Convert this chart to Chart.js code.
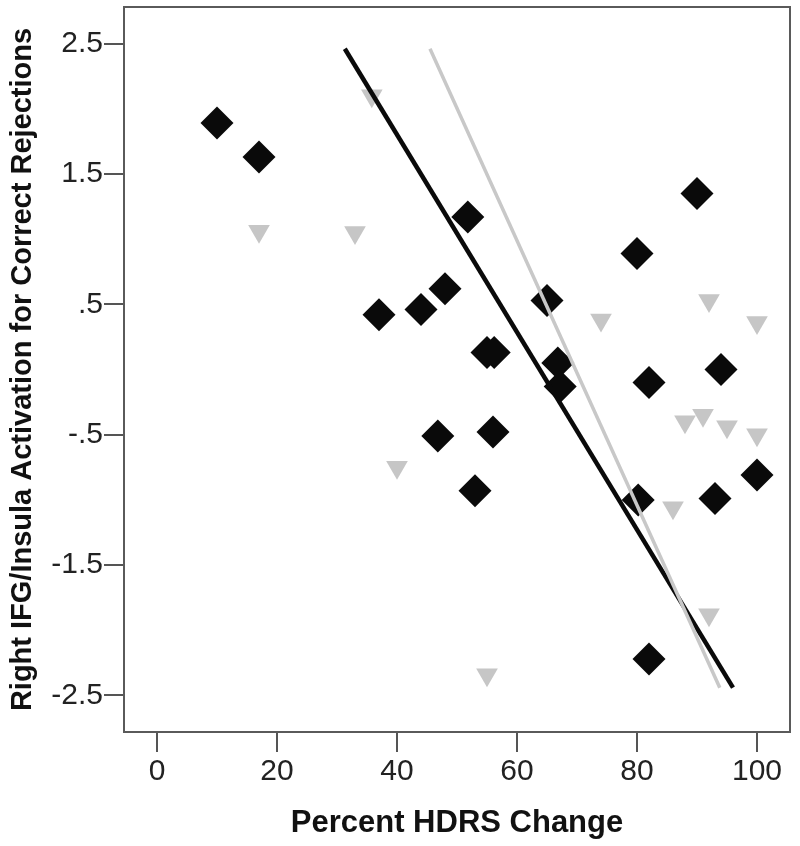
<!DOCTYPE html>
<html>
<head>
<meta charset="utf-8">
<script src="https://cdn.jsdelivr.net/npm/chart.js@4/dist/chart.umd.min.js"></script>
<style>
  html, body { margin: 0; padding: 0; background: #ffffff; }
  #wrap { width: 800px; height: 846px; }
</style>
</head>
<body>
<div id="wrap"><canvas id="c" width="800" height="846"></canvas></div>
<script>
// ---- data ----
const xTickValues = [0, 20, 40, 60, 80, 100];
const xTickLabels = ['0', '20', '40', '60', '80', '100'];
const yTickValues = [-2.5, -1.5, -0.5, 0.5, 1.5, 2.5];
const yTickLabels = ['-2.5', '-1.5', '-.5', '.5', '1.5', '2.5'];

// black diamonds
const diamondX = [10, 17, 51.8, 37, 44, 48, 65, 80, 90, 55, 56.2, 66.8, 67.2, 82, 94, 46.8, 56, 53, 80.2, 93, 100, 82];
const diamondY = [1.89, 1.63, 1.17, 0.42, 0.46, 0.62, 0.53, 0.89, 1.35, 0.13, 0.13, 0.05, -0.13, -0.10, 0.00, -0.51, -0.48, -0.93, -1.00, -0.99, -0.81, -2.22];

// gray triangles
const triX = [35.8, 17, 33, 74, 92, 100, 88, 91, 95, 100, 40, 86, 92, 55];
const triY = [2.10, 1.06, 1.05, 0.38, 0.53, 0.36, -0.40, -0.35, -0.44, -0.50, -0.75, -1.06, -1.88, -2.34];

// fit lines (end points)
const blackFitX = [31.3, 96.0];
const blackFitY = [2.46, -2.44];
const grayFitX = [45.5, 93.8];
const grayFitY = [2.46, -2.44];

const xTitle = 'Percent HDRS Change';
const yTitle = 'Right IFG/Insula Activation for Correct Rejections';

const toPts = (xs, ys) => xs.map((x, i) => ({ x: x, y: ys[i] }));

const boxPlugin = {
  id: 'box',
  afterDraw(chart) {
    const a = chart.chartArea, ctx = chart.ctx;
    ctx.save();
    ctx.strokeStyle = '#5a5a5a';
    ctx.lineWidth = 2;
    ctx.strokeRect(a.left, a.top, a.right - a.left, a.bottom - a.top);
    ctx.restore();
  }
};

const tickFont = { family: '"Liberation Sans", Arial, sans-serif', size: 30 };
const titleFontX = { family: '"Liberation Sans", Arial, sans-serif', size: 31, weight: 'bold' };
const titleFontY = { family: '"Liberation Sans", Arial, sans-serif', size: 29, weight: 'bold' };

new Chart(document.getElementById('c'), {
  type: 'scatter',
  data: {
    datasets: [
      {
        type: 'line', data: toPts(grayFitX, grayFitY),
        borderColor: '#c8c8c8', borderWidth: 3.5, pointRadius: 0, fill: false, tension: 0
      },
      {
        type: 'line', data: toPts(blackFitX, blackFitY),
        borderColor: '#0a0a0a', borderWidth: 4.5, pointRadius: 0, fill: false, tension: 0
      },
      {
        data: toPts(diamondX, diamondY),
        pointStyle: 'rectRot', pointRadius: 16.5, pointHoverRadius: 16.5,
        backgroundColor: '#0a0a0a', borderColor: '#0a0a0a', borderWidth: 0
      },
      {
        data: toPts(triX, triY),
        pointStyle: 'triangle', pointRadius: 12.5, pointHoverRadius: 12.5,
        pointRotation: 180,
        backgroundColor: '#c6c6c6', borderColor: '#c6c6c6', borderWidth: 0
      }
    ]
  },
  options: {
    responsive: false,
    animation: false,
    events: [],
    layout: { autoPadding: false, padding: { top: 7, right: 10, left: 0, bottom: 0 } },
    plugins: { legend: { display: false }, tooltip: { enabled: false } },
    scales: {
      x: {
        type: 'linear', min: -5.5, max: 105.5,
        afterBuildTicks: (s) => { s.ticks = xTickValues.map(v => ({ value: v })); },
        afterFit: (s) => { s.height = 114; s.paddingLeft = 0; s.paddingRight = 0; },
        ticks: {
          font: tickFont, color: '#222', padding: 2, maxRotation: 0,
          callback: (v, i) => xTickLabels[i]
        },
        grid: { display: true, drawOnChartArea: false, drawTicks: true, tickLength: 20, color: '#555', lineWidth: 2 },
        border: { display: false },
        title: { display: true, text: xTitle, font: titleFontX, color: '#111', padding: { top: 6, bottom: 4 } }
      },
      y: {
        type: 'linear', min: -2.78, max: 2.78,
        afterBuildTicks: (s) => { s.ticks = yTickValues.map(v => ({ value: v })); },
        afterFit: (s) => { s.width = 124; s.paddingTop = 0; s.paddingBottom = 0; },
        ticks: {
          font: tickFont, color: '#222', padding: 1,
          callback: (v, i) => yTickLabels[i]
        },
        grid: { display: true, drawOnChartArea: false, drawTicks: true, tickLength: 20, color: '#555', lineWidth: 2 },
        border: { display: false },
        title: { display: true, text: yTitle, font: titleFontY, color: '#111', padding: { top: 6, bottom: 4 } }
      }
    }
  },
  plugins: [boxPlugin]
});
</script>
</body>
</html>
